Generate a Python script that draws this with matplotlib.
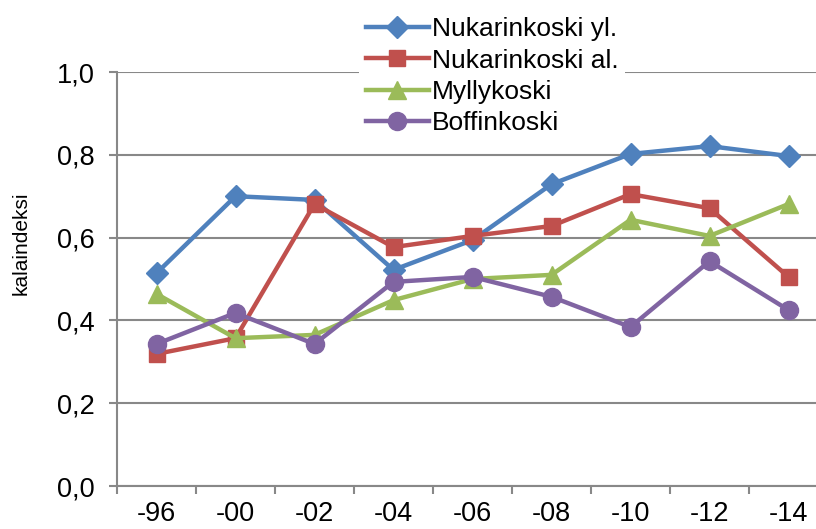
import numpy as np
import matplotlib.pyplot as plt
from matplotlib.ticker import FuncFormatter

plt.rcParams['font.family'] = ['Liberation Sans', 'DejaVu Sans']

years = ['-96', '-00', '-02', '-04', '-06', '-08', '-10', '-12', '-14']
nuk_yl = [0.514, 0.700, 0.691, 0.522, 0.594, 0.729, 0.802, 0.821, 0.797]
nuk_al = [0.319, 0.357, 0.681, 0.577, 0.604, 0.628, 0.705, 0.671, 0.505]
myllykoski = [0.464, 0.357, 0.365, 0.449, 0.500, 0.510, 0.643, 0.604, 0.681]
boffinkoski = [0.343, 0.418, 0.343, 0.493, 0.505, 0.457, 0.384, 0.543, 0.425]

series = [
    ('Nukarinkoski yl.', nuk_yl, '#4F81BD', 'D', 11),
    ('Nukarinkoski al.', nuk_al, '#C0504D', 's', 12),
    ('Myllykoski', myllykoski, '#9BBB59', '^', 13),
    ('Boffinkoski', boffinkoski, '#8064A2', 'o', 13),
]

fig = plt.figure(figsize=(8.16, 5.29), dpi=100)
ax = fig.add_axes([117/816, 43/529, 711/816, 414/529])

x = np.arange(len(years))
for name, vals, col, mk, ms in series:
    ax.plot(x, vals, color=col, lw=3.2, marker=mk, ms=ms, label=name, zorder=3)

ax.set_xlim(-0.5, len(years) - 0.5)
ax.set_ylim(0, 1.0)
ax.set_yticks(np.arange(0, 1.01, 0.2))
ax.yaxis.set_major_formatter(FuncFormatter(lambda v, p: f'{v:.1f}'.replace('.', ',')))
ax.set_xticks(x)
ax.set_xticklabels(years)
ax.set_xticks(np.arange(-0.5, len(years)), minor=True)
ax.tick_params(axis='x', which='major', length=0, pad=11, labelsize=19.5)
ax.tick_params(axis='x', which='minor', length=6, width=1.5, color='#888888')
ax.tick_params(axis='y', length=6, width=1.5, color='#888888', labelsize=19.5, pad=10)

ax.grid(axis='y', color='#888888', lw=1.5)
ax.set_axisbelow(True)
for s in ['top', 'right']:
    ax.spines[s].set_visible(False)
for s in ['left', 'bottom']:
    ax.spines[s].set_color('#888888')
    ax.spines[s].set_linewidth(1.5)

ax.set_ylabel('kalaindeksi', fontsize=15)
ax.yaxis.set_label_coords(-0.122, 0.587)

fig.legend(loc='upper left', bbox_to_anchor=(346/816, 1.005), fontsize=19,
           frameon=True, facecolor='white', edgecolor='none', framealpha=1,
           handlelength=2.4, labelspacing=0.28, handletextpad=0.1, borderpad=0.25)

fig.savefig('out.png', dpi=100)
